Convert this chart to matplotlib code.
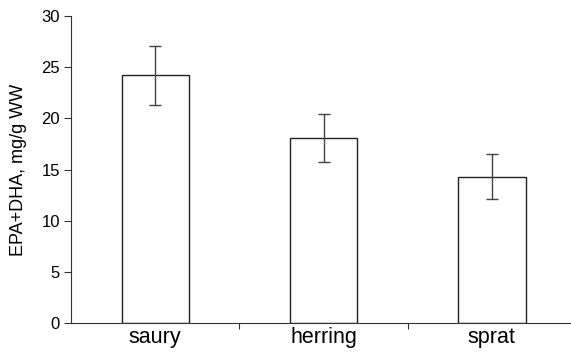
import matplotlib
matplotlib.use("Agg")
import matplotlib.pyplot as plt
from matplotlib.ticker import FixedLocator

categories = ["saury", "herring", "sprat"]
values = [24.2, 18.1, 14.3]
errors = [2.9, 2.35, 2.2]
yticks = [0, 5, 10, 15, 20, 25, 30]

plt.rcParams['font.family'] = ['Liberation Sans', 'DejaVu Sans']

fig = plt.figure(figsize=(5.71, 3.55), dpi=100)
ax = fig.add_axes([71/571, 1-323/355, 1-71/571, (323-16)/355])

x = list(range(len(categories)))
ax.bar(x, values, width=0.4, color='white', edgecolor='#222222', linewidth=1.0, zorder=2)
ax.errorbar(x, values, yerr=errors, fmt='none', ecolor='#444444', elinewidth=1.0,
            capsize=4.5, capthick=1.0, zorder=3)

ax.set_xlim(-0.5, 2.47)
ax.set_ylim(0, 30)
ax.set_yticks(yticks)
ax.set_xticks(x)
ax.set_xticklabels(categories, fontsize=15.5)
ax.tick_params(axis='x', which='major', length=0, pad=3)
ax.xaxis.set_minor_locator(FixedLocator([0.5, 1.5]))
ax.tick_params(axis='x', which='minor', length=4, width=0.8, direction='out', color='#333333')
ax.tick_params(axis='y', length=5, width=0.8, direction='out', labelsize=12, pad=3, color='#333333')
ax.set_ylabel("EPA+DHA, mg/g WW", fontsize=13, labelpad=10)

for s in ['top', 'right']:
    ax.spines[s].set_visible(False)
for s in ['left', 'bottom']:
    ax.spines[s].set_linewidth(0.8)
    ax.spines[s].set_color('#333333')

fig.savefig("out.png", dpi=100)
